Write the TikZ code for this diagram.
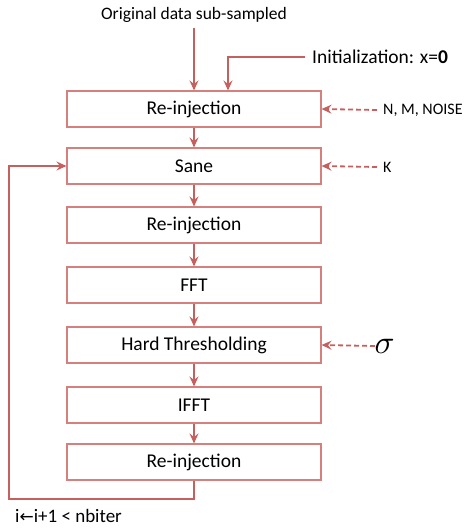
\documentclass[tikz,border=0pt]{standalone}
\usepackage{fontspec}
\setmainfont{Carlito}
\newfontfamily\dejavu{DejaVu Sans}
\usetikzlibrary{arrows.meta}
\definecolor{boxc}{RGB}{214,128,126}
\definecolor{arrc}{RGB}{196,96,94}
\begin{document}
\begin{tikzpicture}[x=1pt,y=-1pt,
  stepbox/.style={draw=boxc,line width=1.1pt,fill=white,minimum width=254pt,minimum height=36pt,inner sep=0pt,font=\fontsize{19.5}{22}\selectfont},
  flow/.style={draw=arrc,line width=1.8pt,-{Stealth[length=10pt,width=9pt,inset=3.5pt]}},
  param/.style={draw=arrc,line width=1.8pt,dash pattern=on 5pt off 3pt,-{Stealth[length=10pt,width=9pt,inset=3.5pt]}},
  lab/.style={font=\fontsize{16}{18}\selectfont,inner sep=0pt,anchor=west}]
\useasboundingbox (0,0) rectangle (476,528);
\node[stepbox] (b1) at (194,109) {Re-injection};
\node[stepbox] (b2) at (194,166) {Sane};
\node[stepbox] (b3) at (194,225) {Re-injection};
\node[stepbox] (b4) at (194,285) {FFT};
\node[stepbox] (b5) at (194,345) {Hard Thresholding};
\node[stepbox] (b6) at (194,405) {IFFT};
\node[stepbox] (b7) at (194,462) {Re-injection};
\node[font=\fontsize{17.5}{20}\selectfont,inner sep=0pt] (orig) at (194,15) {Original data sub-sampled};
\node[font=\fontsize{19.5}{22}\selectfont,inner sep=0pt,anchor=west] (init) at (312,57) {Initialization: x=\textbf{0}};
\node[lab] (nmn) at (383,110) {N, M, NOISE};
\node[lab] (k) at (383,167) {K};
\node[inner sep=0pt,anchor=west,scale=3.3] (sig) at (374,346) {$\sigma$};
\node[font=\fontsize{19}{22}\selectfont,inner sep=0pt,anchor=west] (iter) at (15,516) {i{\dejavu\fontsize{17}{20}\selectfont\char"2190}i+1 < nbiter};
\coordinate (c0) at (305,57);
\coordinate (c1) at (228,57);
\coordinate (l1) at (194,499);
\coordinate (l2) at (9,499);
\coordinate (l3) at (9,166);
\draw[flow] ([yshift=-5pt]orig.south) -- (b1.north);
\draw[flow] (c0) -- (c1) -- (c1 |- b1.north);
\foreach \a/\b in {b1/b2,b2/b3,b3/b4,b4/b5,b5/b6,b6/b7}
  \draw[flow] (\a.south) -- (\b.north);
\draw[flow] (b7.south) -- (l1) -- (l2) -- (l3) -- (b2.west);
\draw[param] ([xshift=-6pt]nmn.west) -- (b1.east);
\draw[param] ([xshift=-6pt]k.west) -- (b2.east);
\draw[param] ([xshift=1pt]sig.west) -- (b5.east);
\end{tikzpicture}
\end{document}
